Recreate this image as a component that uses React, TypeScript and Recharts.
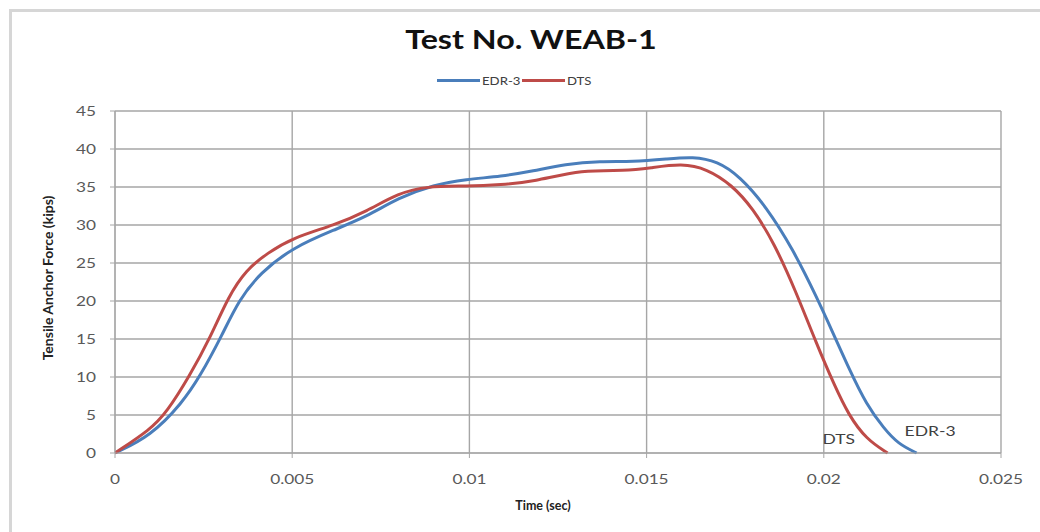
import React from 'react';
import { LineChart, Line, XAxis, YAxis, CartesianGrid, ReferenceDot } from 'recharts';

const edrTime = [0, 0.001, 0.0019, 0.0024, 0.003, 0.0035, 0.0041, 0.005, 0.0062, 0.0071, 0.008, 0.009, 0.0099, 0.0109, 0.0118, 0.0127, 0.0137, 0.0146, 0.0156, 0.0163, 0.017, 0.01763, 0.01838, 0.01913, 0.01979, 0.02026, 0.02073, 0.0212, 0.0217, 0.0221, 0.02262];
const edrForce = [0, 2.2, 6.6, 10.1, 15.3, 20.2, 23.7, 27.0, 29.4, 31.1, 33.6, 35.3, 36.0, 36.4, 37.1, 38.0, 38.4, 38.3, 38.7, 39.0, 38.4, 36.4, 32.4, 26.8, 20.6, 15.8, 10.9, 6.4, 3.2, 1.2, 0];

const dtsTime = [0, 0.001, 0.00145, 0.0021, 0.0027, 0.0032, 0.0037, 0.0043, 0.005, 0.0062, 0.0071, 0.008, 0.0088, 0.0099, 0.0109, 0.0118, 0.0132, 0.0144, 0.0151, 0.016, 0.0167, 0.0174, 0.018, 0.0186, 0.0192, 0.0198, 0.0203, 0.0207, 0.0212, 0.0218];
const dtsForce = [0, 3.1, 5.3, 10.1, 15.3, 20.6, 24.1, 26.3, 28.3, 30.0, 31.8, 34.2, 35.1, 35.1, 35.3, 35.7, 37.3, 37.1, 37.5, 38.1, 37.4, 35.3, 32.2, 27.6, 21.4, 14.3, 8.9, 5.0, 1.8, 0];

const xTicks = [0, 0.005, 0.01, 0.015, 0.02, 0.025];
const yTicks = [0, 5, 10, 15, 20, 25, 30, 35, 40, 45];

const seriesNames = ['EDR-3', 'DTS'];
const seriesColors = ['#4a7ebb', '#be4b48'];

// annotation anchors in data coordinates [time, force]
const dtsNote = [0.02042, 1.8];
const edrNote = [0.0230, 2.9];

const edrData = edrTime.map((t, i) => ({ t, f: edrForce[i] }));
const dtsData = dtsTime.map((t, i) => ({ t, f: dtsForce[i] }));

const FONT = 'Lato, "Open Sans", sans-serif';
const GRID = '#a6a6a6';
const SX = 1.38;

const StretchText = ({ x, y, text, anchor, size, fill, sx }: any) => (
  <text
    transform={`translate(${x},${y}) scale(${sx},1)`}
    x={0}
    y={0}
    textAnchor={anchor}
    dominantBaseline="central"
    fontSize={size}
    fontFamily={FONT}
    fill={fill}
  >
    {text}
  </text>
);

const XTick = (props: any) => {
  const { x, y, payload } = props;
  return <StretchText x={x} y={y + 8} text={String(payload.value)} anchor="middle" size={12.5} fill="#595959" sx={SX} />;
};

const YTick = (props: any) => {
  const { x, y, payload } = props;
  return <StretchText x={x} y={y} text={String(payload.value)} anchor="end" size={12.5} fill="#595959" sx={SX} />;
};

const noteLabel = (text: string) => (p: any) => {
  const vb = p.viewBox || {};
  const cx = (vb.x ?? 0) + (vb.width ?? 0) / 2;
  const cy = (vb.y ?? 0) + (vb.height ?? 0) / 2;
  return <StretchText x={cx} y={cy} text={text} anchor="middle" size={13.5} fill="#404040" sx={1.3} />;
};

export default function App() {
  return (
    <div style={{ position: 'absolute', left: 0, top: 0, width: 1040, height: 532, background: '#fff', overflow: 'hidden', fontFamily: FONT }}>
      <div style={{ position: 'absolute', left: 9, top: 9, width: 1100, height: 600, borderTop: '3px solid #d6d6d6', borderLeft: '3px solid #d6d6d6' }} />
      <div style={{ position: 'absolute', left: 0, top: 23, width: 1062, textAlign: 'center', fontSize: 26, fontWeight: 700, color: '#111', transform: 'scaleX(1.24)', transformOrigin: '531px 0' }}>
        Test No. WEAB-1
      </div>
      <div style={{ position: 'absolute', left: 437, top: 73, display: 'flex', alignItems: 'center', fontSize: 11, color: '#404040', height: 14, whiteSpace: 'nowrap' }}>
        {seriesNames.map((n, i) => (
          <div key={n} style={{ display: 'flex', alignItems: 'center', marginRight: 6, flexShrink: 0 }}>
            <div style={{ width: 43, height: 3, background: seriesColors[i], marginRight: 2, flexShrink: 0 }} />
            <span style={{ display: 'inline-block', whiteSpace: 'nowrap', transform: 'scaleX(1.2)', transformOrigin: '0 50%', width: n.length * 6.8, flexShrink: 0 }}>{n}</span>
          </div>
        ))}
      </div>
      <div style={{ position: 'absolute', left: 0, top: 498, width: 1086, textAlign: 'center', fontSize: 12.5, fontWeight: 700, color: '#222' }}>
        Time (sec)
      </div>
      <div style={{ position: 'absolute', left: 48, top: 278, transform: 'translate(-50%, -50%) rotate(-90deg) scaleX(1.12)', whiteSpace: 'nowrap', fontSize: 12.5, fontWeight: 700, color: '#222' }}>
        Tensile Anchor Force (kips)
      </div>
      <div style={{ position: 'absolute', left: 0, top: 0 }}>
        <LineChart width={1040} height={532} margin={{ top: 111, right: 39, bottom: 49, left: 55 }}>
          <CartesianGrid stroke={GRID} strokeWidth={1.4} />
          <XAxis
            type="number"
            dataKey="t"
            domain={[0, 0.025]}
            ticks={xTicks}
            allowDataOverflow
            height={30}
            tickSize={5}
            tickMargin={13}
            stroke={GRID}
            tick={<XTick />}
          />
          <YAxis
            type="number"
            domain={[0, 45]}
            ticks={yTicks}
            width={60}
            tickSize={5}
            tickMargin={14}
            stroke={GRID}
            tick={<YTick />}
          />
          <Line data={edrData} dataKey="f" name={seriesNames[0]} type="basis" stroke={seriesColors[0]} strokeWidth={3} dot={false} isAnimationActive={false} />
          <Line data={dtsData} dataKey="f" name={seriesNames[1]} type="basis" stroke={seriesColors[1]} strokeWidth={3} dot={false} isAnimationActive={false} />
          <ReferenceDot x={dtsNote[0]} y={dtsNote[1]} r={0} fill="none" stroke="none" label={noteLabel('DTS')} />
          <ReferenceDot x={edrNote[0]} y={edrNote[1]} r={0} fill="none" stroke="none" label={noteLabel('EDR-3')} />
        </LineChart>
      </div>
    </div>
  );
}
